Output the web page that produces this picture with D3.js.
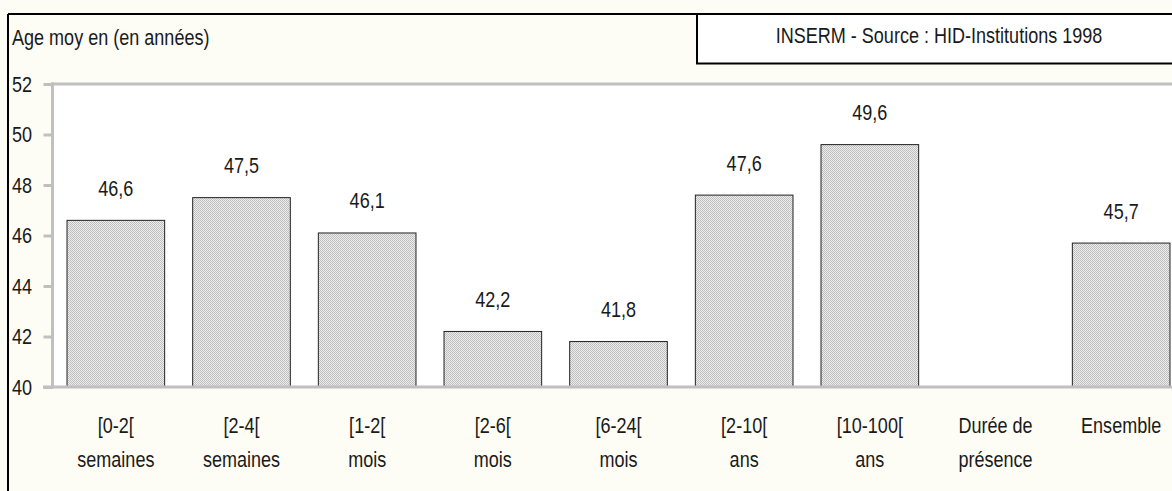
<!DOCTYPE html>
<html>
<head>
<meta charset="utf-8">
<script src="https://cdn.jsdelivr.net/npm/d3@7"></script>
<style>
  body { margin: 0; background: #fdfdf5; }
  svg { display: block; }
  text { font-family: "Liberation Sans", Arial, sans-serif; font-size: 22px; fill: #1a1a1a; }
</style>
</head>
<body>
<svg id="chart" width="1172" height="491"></svg>
<script>
// data
var categories = ["[0-2[|semaines", "[2-4[|semaines", "[1-2[|mois", "[2-6[|mois", "[6-24[|mois",
                  "[2-10[|ans", "[10-100[|ans", "Durée de|présence", "Ensemble"];
var values = [46.6, 47.5, 46.1, 42.2, 41.8, 47.6, 49.6, null, 45.7];
var yTicks = [40, 42, 44, 46, 48, 50, 52];
var titleText = "Age moy en (en années)";
var sourceText = "INSERM - Source : HID-Institutions 1998";

var svg = d3.select("#chart"),
    W = +svg.attr("width"),
    H = +svg.attr("height");

// narrow look: squeeze Liberation Sans horizontally
var SQ = 0.82;
function narrow(px, py) { return "translate(" + px + "," + py + ") scale(" + SQ + ",1)"; }

var fmt = function (v) { return d3.format(".1f")(v).replace(".", ","); };

// bar fill pattern (stippled grey)
var defs = svg.append("defs");
var pat = defs.append("pattern")
    .attr("id", "dots")
    .attr("patternUnits", "userSpaceOnUse")
    .attr("width", 2).attr("height", 2);
pat.append("rect").attr("width", 2).attr("height", 2).attr("fill", "#ececec");
pat.append("rect").attr("width", 1).attr("height", 1).attr("fill", "#bdbdbd");
pat.append("rect").attr("x", 1).attr("y", 1).attr("width", 1).attr("height", 1).attr("fill", "#c2c2c2");

var x = d3.scaleBand()
    .domain(categories)
    .range([53, 1184])
    .paddingInner(0.223)
    .paddingOuter(0.1115);

var y = d3.scaleLinear()
    .domain([40, 52])
    .range([387, 84]);

var barData = values.map(function (v, i) { return [categories[i], v]; })
    .filter(function (d) { return d[1] != null; });

// plot area
svg.append("rect")
    .attr("x", 53).attr("y", y(52))
    .attr("width", W - 53).attr("height", y(40) - y(52))
    .attr("fill", "#ffffff");

// outer frame
svg.append("line").attr("x1", 8).attr("x2", W).attr("y1", 14).attr("y2", 14)
    .attr("stroke", "#000").attr("stroke-width", 2);
svg.append("line").attr("x1", 8).attr("x2", 8).attr("y1", 14).attr("y2", H)
    .attr("stroke", "#000").attr("stroke-width", 2);

// source box
svg.append("rect")
    .attr("x", 697).attr("y", 14).attr("width", W - 697 + 10).attr("height", 49.5)
    .attr("fill", "#fff").attr("stroke", "#000").attr("stroke-width", 2);
svg.append("text")
    .attr("transform", narrow(939, 42.7))
    .attr("text-anchor", "middle")
    .text(sourceText);

// title
svg.append("text")
    .attr("transform", narrow(12, 44.5))
    .text(titleText);

// bars
svg.append("g")
    .selectAll("rect")
    .data(barData)
    .enter().append("rect")
    .attr("x", function (d) { return x(d[0]); })
    .attr("y", function (d) { return y(d[1]); })
    .attr("width", x.bandwidth())
    .attr("height", function (d) { return y(40) - y(d[1]); })
    .attr("fill", "url(#dots)")
    .attr("stroke", "#222")
    .attr("stroke-width", 1);

// value labels
svg.append("g")
    .selectAll("text")
    .data(barData)
    .enter().append("text")
    .attr("transform", function (d) { return narrow(x(d[0]) + x.bandwidth() / 2, y(d[1]) - 24.5); })
    .attr("text-anchor", "middle")
    .text(function (d) { return fmt(d[1]); });

// y axis ticks
var yAxis = svg.append("g")
    .attr("transform", "translate(52.5,0)")
    .call(d3.axisLeft(y).tickValues(yTicks).tickSize(9).tickFormat(""));
yAxis.select(".domain").remove();
yAxis.selectAll(".tick line").attr("stroke", "#c0c0c0").attr("stroke-width", 3);

// y tick labels
svg.append("g")
    .selectAll("text")
    .data(yTicks)
    .enter().append("text")
    .attr("transform", function (d) { return narrow(12, y(d) + 7.5); })
    .text(function (d) { return d; });

// gray frame of plot area
svg.append("line").attr("x1", 52.5).attr("x2", 52.5).attr("y1", y(52) - 1.5).attr("y2", y(40) + 1.5)
    .attr("stroke", "#c0c0c0").attr("stroke-width", 3);
svg.append("line").attr("x1", 51).attr("x2", W).attr("y1", y(52)).attr("y2", y(52))
    .attr("stroke", "#c0c0c0").attr("stroke-width", 3);
svg.append("line").attr("x1", 43).attr("x2", W).attr("y1", y(40)).attr("y2", y(40))
    .attr("stroke", "#c0c0c0").attr("stroke-width", 3);

// category labels (two lines)
var cat = svg.append("g")
    .selectAll("text")
    .data(categories)
    .enter().append("text")
    .attr("text-anchor", "middle")
    .attr("transform", function (d) { return narrow(x(d) + x.bandwidth() / 2, 0); });
cat.selectAll("tspan")
    .data(function (d) { return d.split("|"); })
    .enter().append("tspan")
    .attr("x", 0)
    .attr("y", function (d, i) { return 433 + i * 34; })
    .text(function (d) { return d; });
</script>
</body>
</html>
